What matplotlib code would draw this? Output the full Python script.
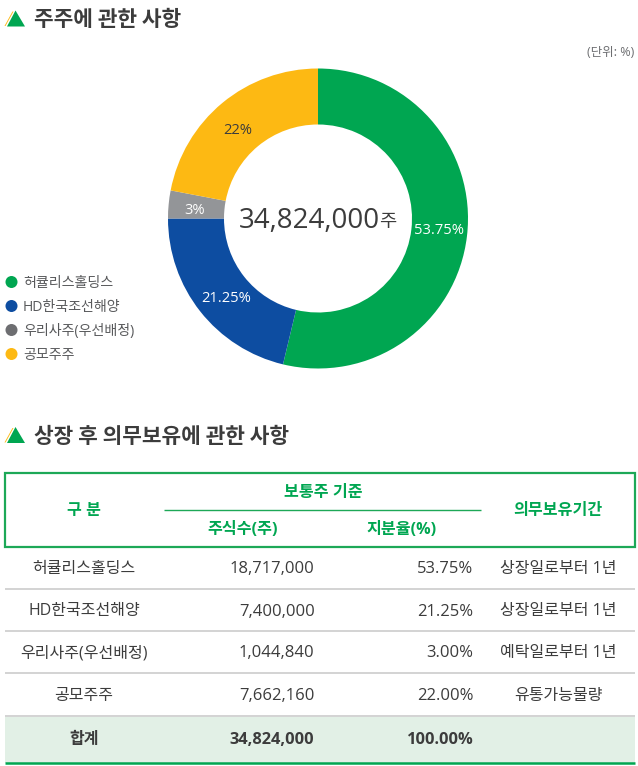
import matplotlib
matplotlib.use("Agg")
import matplotlib.pyplot as plt
from matplotlib.patches import Rectangle, Polygon, Circle

FONT = ['Open Sans', 'Noto Sans CJK KR', 'DejaVu Sans']
KR = ['Noto Sans CJK KR', 'DejaVu Sans']
plt.rcParams['font.family'] = FONT

# data
holders = ['허큘리스홀딩스', 'HD한국조선해양', '우리사주(우선배정)', '공모주주']
shares_pct = [53.75, 21.25, 3, 22]
pct_labels = ['53.75%', '21.25%', '3%', '22%']
colors = ['#00A651', '#0D4DA1', '#939598', '#FDB913']
legend_colors = ['#00A651', '#0D4DA1', '#6D6E71', '#FDB913']
total_label = '34,824,000'
share_counts = ['18,717,000', '7,400,000', '1,044,840', '7,662,160']
share_ratios = ['53.75%', '21.25%', '3.00%', '22.00%']
periods = ['상장일로부터 1년', '상장일로부터 1년', '예탁일로부터 1년', '유통가능물량']
sum_row = ['합계', '34,824,000', '100.00%', '']

W, H = 638, 766
GREEN = '#00A651'
DARK = '#3C3C3C'
fig = plt.figure(figsize=(W / 100, H / 100), dpi=100)
ax = fig.add_axes([0, 0, 1, 1])
ax.set_xlim(0, W)
ax.set_ylim(H, 0)
ax.axis('off')


def title(y, s):
    ax.add_patch(Polygon([[4.5, y + 7.5], [12.5, y - 7], [13.5, y - 7], [5.5, y + 7.5]],
                         closed=True, fc='#FDB913', ec='none'))
    ax.add_patch(Polygon([[7, y + 8], [15.5, y - 8], [25, y + 8]],
                         closed=True, fc=GREEN, ec='none'))
    ax.text(34.5, y + 1.5, s, fontsize=15.4, fontweight='bold', color=DARK,
            va='center', ha='left', family=KR)


title(18.5, '주주에 관한 사항')
title(435, '상장 후 의무보유에 관한 사항')
ax.text(634, 52, '(단위: %)', fontsize=9, color='#6D6E71', ha='right', va='center')

# donut
cx, cy, R = 318, 218.5, 150
pax = fig.add_axes([(cx - R) / W, 1 - (cy + R) / H, 2 * R / W, 2 * R / H])
pax.pie(shares_pct, colors=colors, startangle=90, counterclock=False, radius=1,
        wedgeprops=dict(width=56 / 150, linewidth=0))
pax.set_xlim(-1, 1)
pax.set_ylim(-1, 1)
pax.set_aspect('equal')
pax.axis('off')

label_pos = [(439, 231), (226, 298), (195, 210), (238, 131)]
label_col = ['white', 'white', 'white', DARK]
for (x, y), s, c in zip(label_pos, pct_labels, label_col):
    fig.text(x / W, 1 - y / H, s, fontsize=10.6, color=c, ha='center', va='center')

fig.text(238.5 / W, 1 - 221.5 / H, total_label, fontsize=20, color=DARK, ha='left', va='center')
fig.text(379.5 / W, 1 - 221 / H, '주', fontsize=13.5, color=DARK, ha='left', va='center', family=KR)

# legend
for y, n, c in zip([282, 306, 330, 354], holders, legend_colors):
    ax.add_patch(Circle((11.5, y), 6, fc=c, ec='none'))
    ax.text(23, y + 2, n, fontsize=10.1, color='#58595B', ha='left', va='center')

# table header
ax.add_patch(Rectangle((5, 472.5), 630, 74, fc='none', ec='#1DA857', lw=1.6))
ax.plot([164, 481], [509.5, 509.5], color='#1DA857', lw=1.0, solid_capstyle='butt')
hkw = dict(fontsize=11.6, fontweight='bold', color=GREEN, ha='center', va='center')
ax.text(84, 511, '구 분', **hkw)
ax.text(323, 493.5, '보통주 기준', **hkw)
ax.text(243, 530, '주식수(주)', **hkw)
ax.text(402, 530, '지분율(%)', **hkw)
ax.text(558, 511, '의무보유기간', **hkw)

# table body
row_y = [567, 609.5, 651, 694]
for y, n, a, b, p in zip(row_y, holders, share_counts, share_ratios, periods):
    ax.text(84, y + 2, n, fontsize=11.5, color=DARK, ha='center', va='center')
    ax.text(314.5, y + 2, a, fontsize=12, color=DARK, ha='right', va='center')
    ax.text(473.5, y + 2, b, fontsize=12, color=DARK, ha='right', va='center')
    ax.text(558, y + 2, p, fontsize=11.5, color=DARK, ha='center', va='center')
for y in [589, 631, 673, 716]:
    ax.plot([5, 635], [y, y], color='#C8C8C8', lw=1.1, solid_capstyle='butt')

# sum row
ax.add_patch(Rectangle((5, 716.5), 630, 46.5, fc='#E2F0E6', ec='none'))
ax.plot([5, 635], [763, 763], color=GREEN, lw=1.8, solid_capstyle='butt')
y = 740
ax.text(84, y, sum_row[0], fontsize=11.5, fontweight='bold', color=DARK, ha='center', va='center')
ax.text(314.5, y, sum_row[1], fontsize=11.8, fontweight='bold', color=DARK, ha='right', va='center')
ax.text(473.5, y, sum_row[2], fontsize=11.8, fontweight='bold', color=DARK, ha='right', va='center')

fig.savefig('out.png', dpi=100, facecolor='white')
